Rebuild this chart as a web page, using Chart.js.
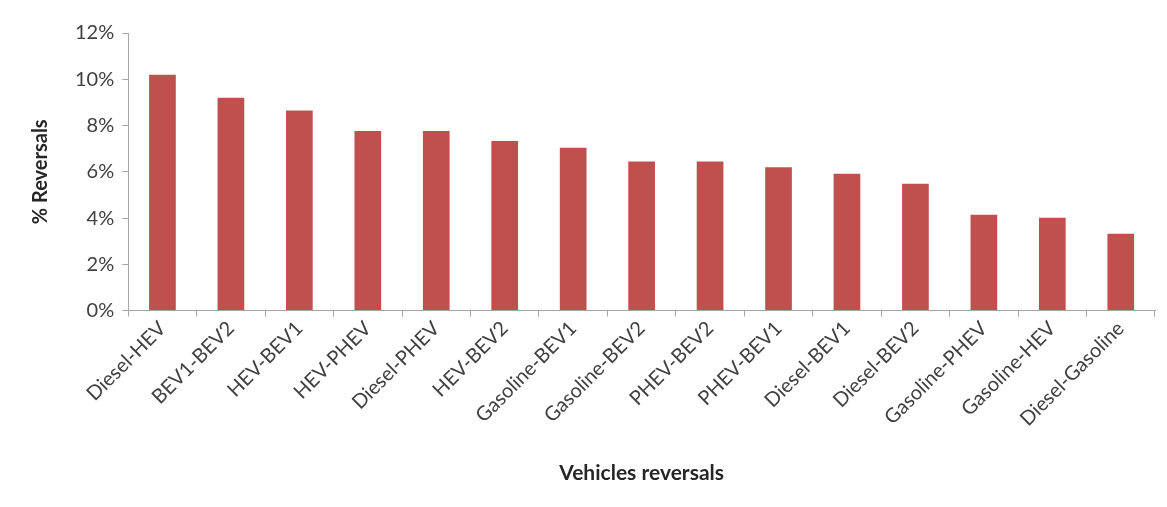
<!DOCTYPE html>
<html>
<head>
<meta charset="utf-8">
<script src="https://cdn.jsdelivr.net/npm/chart.js@4"></script>
<style>
  html, body { margin: 0; padding: 0; background: #fff; }
  #wrap { width: 1167px; height: 507px; }
</style>
</head>
<body>
<div id="wrap"><canvas id="reversalsChart"></canvas></div>
<script>
// 차량 전환 카테고리
const categories = ['Diesel-HEV', 'BEV1-BEV2', 'HEV-BEV1', 'HEV-PHEV', 'Diesel-PHEV', 'HEV-BEV2',
    'Gasoline-BEV1', 'Gasoline-BEV2', 'PHEV-BEV2', 'PHEV-BEV1', 'Diesel-BEV1', 'Diesel-BEV2',
    'Gasoline-PHEV', 'Gasoline-HEV', 'Diesel-Gasoline'];
// % reversals
const reversalValues = [10.2, 9.2, 8.65, 7.76, 7.76, 7.33, 7.04, 6.45, 6.45, 6.2, 5.92, 5.48, 4.14, 4.01, 3.32];
const yTicks = [0, 2, 4, 6, 8, 10, 12];

const font = "Lato, 'Open Sans', sans-serif";

new Chart(document.getElementById('reversalsChart').getContext('2d'), {
    type: 'bar',
    data: {
        labels: categories,
        datasets: [{
            label: '% Reversals',
            data: reversalValues,
            backgroundColor: '#C0504D',
            barPercentage: 0.39,
            categoryPercentage: 1.0
        }]
    },
    options: {
        responsive: true,
        maintainAspectRatio: false,
        animation: false,
        layout: { padding: { top: 33, right: 12, bottom: 17, left: 25 } },
        plugins: {
            legend: { display: false },
            tooltip: { enabled: false }
        },
        scales: {
            x: {
                grid: {
                    drawOnChartArea: false,
                    drawTicks: true,
                    tickLength: 6,
                    color: '#A6A6A6'
                },
                border: { color: '#A6A6A6', width: 1 },
                ticks: {
                    minRotation: 45,
                    maxRotation: 45,
                    autoSkip: false,
                    color: '#404040',
                    font: { family: font, size: 20 },
                    padding: 0
                },
                title: {
                    display: true,
                    text: 'Vehicles reversals',
                    color: '#262626',
                    font: { family: font, size: 21, weight: 'bold' },
                    padding: { top: 30 }
                }
            },
            y: {
                min: 0,
                max: 12,
                afterBuildTicks: axis => { axis.ticks = yTicks.map(v => ({ value: v })); },
                grid: {
                    drawOnChartArea: false,
                    drawTicks: true,
                    tickLength: 6,
                    color: '#A6A6A6'
                },
                border: { color: '#A6A6A6', width: 1 },
                ticks: {
                    callback: v => v + '%',
                    color: '#404040',
                    font: { family: font, size: 20 },
                    padding: 8
                },
                title: {
                    display: true,
                    text: '% Reversals',
                    color: '#262626',
                    font: { family: font, size: 20, weight: 'bold' },
                    padding: { bottom: 14 }
                }
            }
        }
    }
});
</script>
</body>
</html>
